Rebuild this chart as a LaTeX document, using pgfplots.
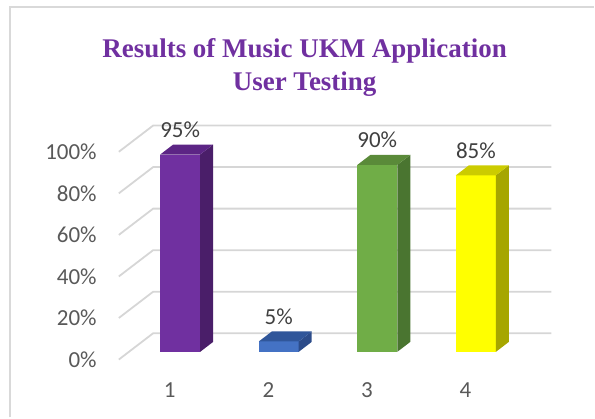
\documentclass[border=0pt]{standalone}
\usepackage{pgfplots}
\pgfplotsset{compat=1.18}
\usepackage{fontspec}
\setmainfont{Carlito}
\newfontfamily\titlefont{Liberation Serif}
\definecolor{titlepurple}{HTML}{7030A0}
\definecolor{ticktext}{HTML}{595959}
\definecolor{labeltext}{HTML}{404040}
\definecolor{gridc}{HTML}{D6D6D6}
\definecolor{frame}{HTML}{D9D9D9}
\definecolor{pF}{HTML}{7030A0}\definecolor{pT}{HTML}{5C2585}\definecolor{pS}{HTML}{4A1E69}
\definecolor{bF}{HTML}{4472C4}\definecolor{bT}{HTML}{30569A}\definecolor{bS}{HTML}{2C4C8A}
\definecolor{gF}{HTML}{70AD47}\definecolor{gT}{HTML}{5A8A39}\definecolor{gS}{HTML}{4A7530}
\definecolor{yF}{HTML}{FFFF00}\definecolor{yT}{HTML}{CCCC00}\definecolor{yS}{HTML}{A6A600}
% cuboid: #1 category, #2 value (%), #3 front, #4 top, #5 side
\newcommand\cuboid[5]{%
  \pgfmathsetmacro\xa{#1-0.097}%
  \pgfmathsetmacro\xb{#1+0.308}%
  \pgfmathsetmacro\xc{#1+0.440}%
  \pgfmathsetmacro\xd{#1+0.035}%
  \pgfmathsetmacro\yt{3.7+#2}%
  \pgfmathsetmacro\ytt{3.7+#2+4.81}%
  \edef\tmp{%
    \noexpand\addplot[fill=#3,draw=none] coordinates {(\xa,3.7) (\xb,3.7) (\xb,\yt) (\xa,\yt)};
    \noexpand\addplot[fill=#5,draw=none] coordinates {(\xb,3.7) (\xc,8.51) (\xc,\ytt) (\xb,\yt)};
    \noexpand\addplot[fill=#4,draw=none] coordinates {(\xa,\yt) (\xb,\yt) (\xc,\ytt) (\xd,\ytt)};
  }\tmp
}
\begin{document}
\begin{tikzpicture}
\begin{axis}[
  x=98.7pt, y=2.08pt,
  xmin=0.483, xmax=4.87, ymin=0, ymax=112.64,
  clip=false,
  axis line style={draw=none},
  tick style={draw=none},
  major tick length=0pt,
  xtick={1,2,3,4}, xticklabels={1,2,3,4},
  ytick={0,20,40,60,80,100},
  yticklabels={0\%,20\%,40\%,60\%,80\%,100\%},
  /pgf/number format/assume math mode=true,
  ticklabel style={font=\fontsize{23}{23}\selectfont, text=ticktext, inner sep=0pt},
  yticklabel style={anchor=east, xshift=-22pt},
  xticklabel style={anchor=center, yshift=-31pt},
]
% picture extent (595 x 418 px) and chart frame
\path (axis cs:-0.7224,-27.885) rectangle (axis cs:5.306,173.08);
\draw[frame, line width=1.5pt] (axis cs:-0.6211,-27.885) -- (axis cs:-0.6211,169.71) -- (axis cs:5.306,169.71);
\node[anchor=base, font=\titlefont\bfseries\fontsize{27}{32}\selectfont, text=titlepurple] at (axis cs:2.3678,145.34) {Results of Music UKM Application};
\node[anchor=base, font=\titlefont\bfseries\fontsize{27}{32}\selectfont, text=titlepurple] at (axis cs:2.3678,129.33) {User Testing};
\addplot[gridc, line width=1.8pt] coordinates {(0.483,0) (0.831,12.64) (4.87,12.64)};
\addplot[gridc, line width=1.8pt] coordinates {(0.483,20) (0.831,32.64) (4.87,32.64)};
\addplot[gridc, line width=1.8pt] coordinates {(0.483,40) (0.831,52.64) (4.87,52.64)};
\addplot[gridc, line width=1.8pt] coordinates {(0.483,60) (0.831,72.64) (4.87,72.64)};
\addplot[gridc, line width=1.8pt] coordinates {(0.483,80) (0.831,92.64) (4.87,92.64)};
\addplot[gridc, line width=1.8pt] coordinates {(0.483,100) (0.831,112.64) (4.87,112.64)};
\cuboid{1}{95}{pF}{pT}{pS}
\cuboid{2}{5}{bF}{bT}{bS}
\cuboid{3}{90}{gF}{gT}{gS}
\cuboid{4}{85}{yF}{yT}{yS}
\addplot[draw=none, mark=none, nodes near coords, point meta=explicit symbolic,
  nodes near coords style={anchor=center, yshift=14.7pt, inner sep=0pt, font=\fontsize{23}{23}\selectfont, text=labeltext}]
  coordinates {(1.105,103.51) [95\%] (2.105,13.51) [5\%] (3.105,98.51) [90\%] (4.105,93.51) [85\%]};
\end{axis}
\end{tikzpicture}
\end{document}
